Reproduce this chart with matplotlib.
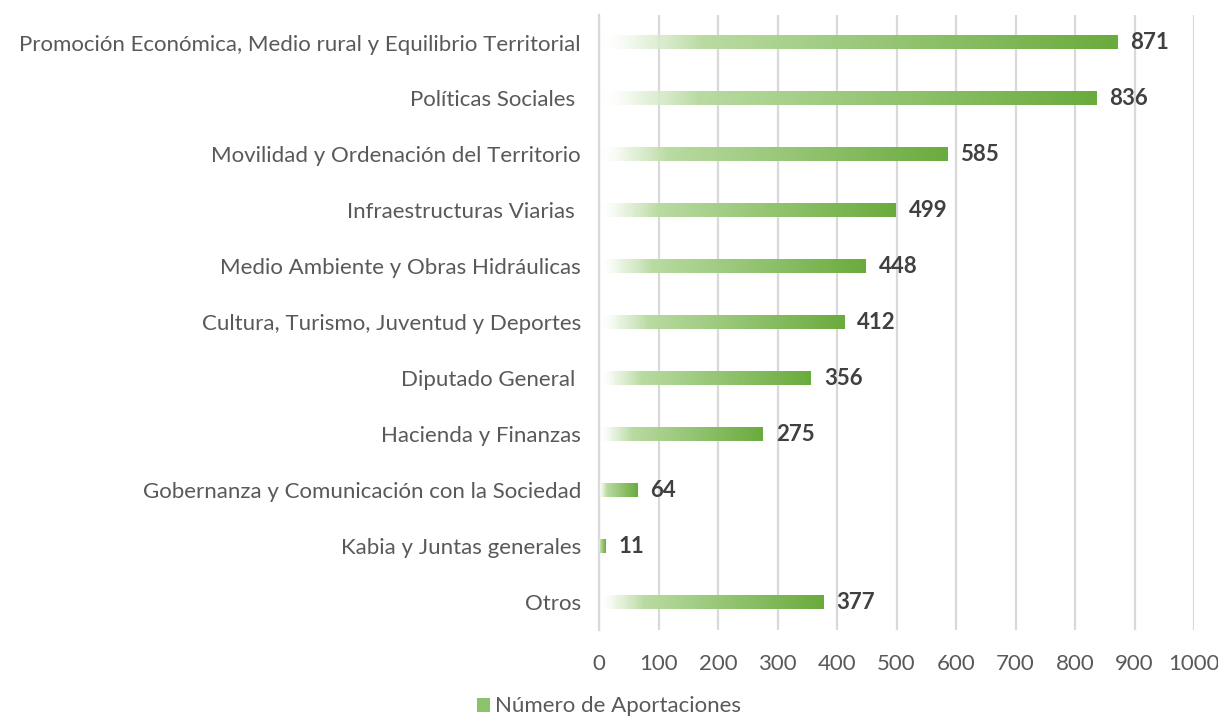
"""Horizontal bar chart: Número de Aportaciones por área."""
import matplotlib.pyplot as plt
import numpy as np
from matplotlib.colors import LinearSegmentedColormap, to_rgba
from matplotlib.patches import Patch

categories = [
    "Promoción Económica, Medio rural y Equilibrio Territorial",
    "Políticas Sociales ",
    "Movilidad y Ordenación del Territorio",
    "Infraestructuras Viarias ",
    "Medio Ambiente y Obras Hidráulicas",
    "Cultura, Turismo, Juventud y Deportes",
    "Diputado General ",
    "Hacienda y Finanzas",
    "Gobernanza y Comunicación con la Sociedad",
    "Kabia y Juntas generales",
    "Otros",
]
values = [871, 836, 585, 499, 448, 412, 356, 275, 64, 11, 377]
x_ticks = [0, 100, 200, 300, 400, 500, 600, 700, 800, 900, 1000]
series_name = "Número de Aportaciones"

plt.rcParams["font.family"] = ["Lato", "DejaVu Sans"]
text_color = "#595959"
grid_color = "#d9d9d9"

# gradient: transparent white -> light green -> green
grad = LinearSegmentedColormap.from_list(
    "bar_grad",
    [(0.0, to_rgba("#ffffff", 0.0)),
     (0.08, to_rgba("#e4f1da", 0.8)),
     (0.2, to_rgba("#b9dba2")),
     (1.0, to_rgba("#6aab3d"))],
)
ramp = grad(np.linspace(0, 1, 256))[np.newaxis, :, :]

fig = plt.figure(figsize=(12.18, 7.26), dpi=100)
ax = fig.add_axes([0.4918, 0.132, 0.4885, 0.848])

n = len(categories)
ypos = np.arange(n)[::-1]
bar_h = 0.25

for y, v in zip(ypos, values):
    ax.imshow(ramp, extent=[0, v, y - bar_h / 2, y + bar_h / 2],
              aspect="auto", interpolation="bilinear", zorder=3)
    ax.text(v + 22, y, str(v), va="center", ha="left", fontsize=16,
            fontweight="bold", color="#404040", zorder=4)

ax.set_xlim(0, 1000)
ax.set_ylim(-0.5, n - 0.5)
ax.set_xticks(x_ticks)
ax.set_yticks(ypos)
ax.set_yticklabels(categories)
ax.tick_params(axis="y", length=0, pad=13, labelsize=16, labelcolor=text_color)
ax.tick_params(axis="x", length=0, pad=17, labelsize=16, labelcolor=text_color)

ax.grid(axis="x", color=grid_color, linewidth=1.6, zorder=0)
ax.set_axisbelow(True)
for side in ["top", "right", "bottom"]:
    ax.spines[side].set_visible(False)
ax.spines["left"].set_color(grid_color)
ax.spines["left"].set_linewidth(1.6)

handle = Patch(facecolor="#8cc26a", edgecolor="none", label=series_name)
fig.legend(handles=[handle], loc="center", bbox_to_anchor=(0.5, 0.027),
           frameon=False, fontsize=16, labelcolor=text_color,
           handlelength=0.6, handleheight=0.6, handletextpad=0.2)

fig.savefig("out.png", dpi=100)
